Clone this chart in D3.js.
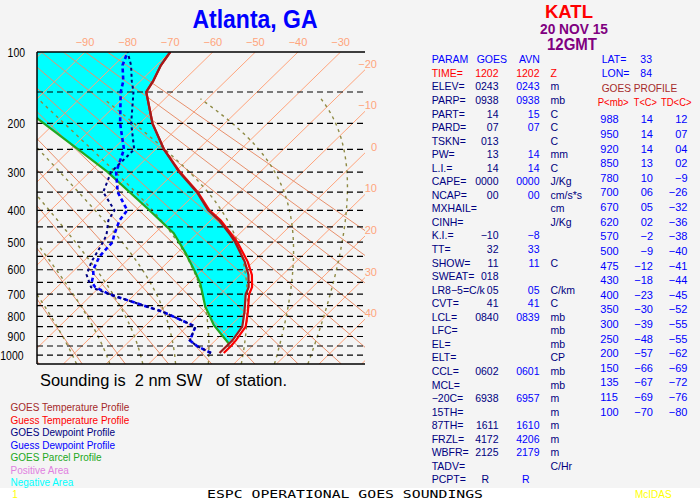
<!DOCTYPE html>
<meta charset="utf-8">
<script src="https://d3js.org/d3.v7.min.js"></script>
<style>
  body { margin: 0; background: #f4f4f4; }
  text { font-family: "Liberation Sans", Arial, sans-serif; }
</style>
<div id="chart"></div>
<script>
// GOES retrieved profile (table on the right)
const profP  = [988, 950, 920, 850, 780, 700, 670, 620, 570, 500, 475, 430, 400, 350, 300, 250, 200, 150, 135, 115, 100];
const goesT  = [14, 14, 14, 13, 10, 6, 5, 2, -2, -9, -12, -18, -23, -30, -39, -48, -57, -66, -67, -69, -70];
const goesTd = [12, 7, 4, 2, -9, -26, -32, -36, -38, -40, -41, -44, -45, -52, -55, -55, -62, -69, -72, -76, -80];

// first guess (AVN) profile
const guessT = [15, 15, 14.8, 13.8, 10.8, 6.8, 5.8, 2.8, -1.3, -8.5, -11.6, -17.6, -22.7, -29.8, -38.8, -48, -57, -66, -67, -69, -70];
const guessTdP = [988, 950, 920, 850, 780, 700, 670, 650, 620, 600, 550, 500, 475, 430, 400, 350, 300, 250, 200, 150, 135, 115, 100];
const guessTd  = [12, 7, 4, 2, -9, -26, -31, -33, -34.4, -35.7, -37.4, -37.8, -39.2, -41.4, -42, -48.6, -53.8, -57.4, -64.6, -72, -74, -78, -80];

// GOES parcel profile
const parcelP = [938, 842, 800, 755, 700, 654, 610, 538, 470, 394, 299, 248, 193, 100];
const parcelT = [14, 5.9, 2.9, -0.5, -4.1, -7.3, -11.1, -18, -25.6, -37.8, -56, -68.7, -84.7, -120];

// background lines
const isobars = d3.range(150, 1001, 50);
const isobarLabels = [100, 200, 300, 400, 500, 600, 700, 800, 900, 1000];
const isotherms = d3.range(-100, 51, 10);
const topTempLabels = [-90, -80, -70, -60, -50, -40, -30];
const rightTempLabels = [-20, -10, 0, 10, 20, 30, 40];
const dryThetas = d3.range(244, 365, 10);
const moistThetaW = [-20, -12, -4, 4, 12, 20, 28, 36];

// text table
const paramNames = ["TIME=", "ELEV=", "PARP=", "PART=", "PARD=", "TSKN=", "PW=", "L.I.=", "CAPE=", "NCAP=", "MXHAIL=", "CINH=", "K.I.=", "TT=", "SHOW=", "SWEAT=", "LR8\u22125=C/k", "CVT=", "LCL=", "LFC=", "EL=", "ELT=", "CCL=", "MCL=", "\u221220C=", "15TH=", "87TH=", "FRZL=", "WBFR=", "TADV=", "PCPT="];
const goesVals = ["1202", "0243", "0938", "14", "07", "013", "13", "14", "0000", "00", "", "", "\u221210", "32", "11", "018", "05", "41", "0840", "", "", "", "0602", "", "6938", "", "1611", "4172", "2125", "", "R"];
const avnVals  = ["1202", "0243", "0938", "15", "07", "", "14", "14", "0000", "00", "", "", "\u22128", "33", "11", "", "05", "41", "0839", "", "", "", "0601", "", "6957", "", "1610", "4206", "2179", "", "R"];
const units    = ["Z", "m", "mb", "C", "C", "C", "mm", "C", "J/Kg", "cm/s*s", "cm", "J/Kg", "", "", "C", "", "C/km", "C", "mb", "mb", "mb", "CP", "mb", "mb", "m", "m", "m", "m", "m", "C/Hr", ""];

const legendItems = ["GOES Temperature Profile", "Guess Temperature Profile", "GOES Dewpoint Profile", "Guess Dewpoint Profile", "GOES Parcel Profile", "Positive Area", "Negative Area"];
const legendColors = ["#a52a2a", "#ff0000", "#000080", "#0000ff", "#22a822", "#e080e0", "#00ffff"];

const W = 700, H = 500;
const svg = d3.select("#chart").append("svg")
  .attr("width", W).attr("height", H);

svg.append("rect").attr("width", W).attr("height", H).attr("fill", "#f4f4f4");

// scales: y linear in p^0.286, isotherms skewed
const pLeft = 37, pRight = 365, pTop = 52, pBottom = 364;
const y = d3.scalePow().exponent(0.286).domain([100, 1050]).range([pTop, pBottom]);
const xT = d3.scaleLinear().domain([-90, -30]).range([85, 340.6]);
const skew = 1.025;
const px = (T, p) => xT(T) - skew * (y(p) - pTop);

const line = d3.line().x(d => px(d.T, d.p)).y(d => y(d.p));

svg.append("clipPath").attr("id", "plot")
  .append("rect").attr("x", pLeft).attr("y", pTop)
  .attr("width", pRight - pLeft).attr("height", pBottom - pTop);

const plot = svg.append("g").attr("clip-path", "url(#plot)");

// negative area between environment and parcel
const negArea = [{ p: parcelP[0], T: parcelT[0] }]
  .concat(profP.map((p, i) => ({ p, T: goesT[i] })).filter(d => d.p < parcelP[0]))
  .concat(parcelP.map((p, i) => ({ p, T: parcelT[i] })).reverse());
plot.append("path")
  .attr("d", line(negArea) + "Z")
  .attr("fill", "#00ffff");

// isotherms
plot.selectAll(".isotherm")
  .data(isotherms)
  .join("path")
  .attr("class", "isotherm")
  .attr("d", T => line([{ p: 100, T }, { p: 1050, T }]))
  .attr("stroke", "#ffa47c")
  .attr("stroke-width", 1)
  .attr("fill", "none");

// dry adiabats
plot.selectAll(".dry")
  .data(dryThetas)
  .join("path")
  .attr("class", "dry")
  .attr("d", th => line(d3.range(100, 1051, 50).map(p => ({ p, T: th * Math.pow(p / 1000, 0.286) - 273.15 }))))
  .attr("stroke", "#e8906c")
  .attr("stroke-width", 1)
  .attr("fill", "none");

// moist adiabats
function moistAdiabat(tw) {
  const Rd = 287.04, cp = 1005.7, Lv = 2.501e6, eps = 0.622;
  const dTdp = (T, p) => {
    const es = 6.112 * Math.exp(17.67 * (T - 273.15) / (T - 29.65));
    const rs = eps * es / (p - es);
    return (Rd * T + Lv * rs) / (p * (cp + Lv * Lv * rs * eps / (Rd * T * T)));
  };
  const pts = [];
  let T = tw + 273.15;
  let T2 = T;
  for (let p = 1000; p < 1050; p += 5) {
    const k1 = dTdp(T2, p), k2 = dTdp(T2 + k1 * 5, p + 5);
    T2 += 2.5 * (k1 + k2);
  }
  pts.push({ p: 1050, T: T2 - 273.15 });
  for (let p = 1000; p >= 160; p -= 5) {
    pts.push({ p, T: T - 273.15 });
    const k1 = dTdp(T, p), k2 = dTdp(T - k1 * 5, p - 5);
    T -= 2.5 * (k1 + k2);
  }
  return pts;
}
plot.selectAll(".moist")
  .data(moistThetaW)
  .join("path")
  .attr("class", "moist")
  .attr("d", tw => line(moistAdiabat(tw)))
  .attr("stroke", "#8e8a44")
  .attr("stroke-width", 1.4)
  .attr("stroke-dasharray", "3,4")
  .attr("fill", "none");

// isobars
plot.selectAll(".isobar")
  .data(isobars)
  .join("line")
  .attr("class", "isobar")
  .attr("x1", pLeft).attr("x2", pRight)
  .attr("y1", d => y(d)).attr("y2", d => y(d))
  .attr("stroke", "#000")
  .attr("stroke-width", 1.2)
  .attr("stroke-dasharray", "6,4");

// profiles
plot.append("path")
  .attr("d", line(parcelP.map((p, i) => ({ p, T: parcelT[i] }))))
  .attr("stroke", "#22a822").attr("stroke-width", 2.2).attr("fill", "none");

plot.append("path")
  .attr("d", line(profP.map((p, i) => ({ p, T: guessT[i] }))))
  .attr("stroke", "#ff0000").attr("stroke-width", 2.2).attr("fill", "none");

plot.append("path")
  .attr("d", line(profP.map((p, i) => ({ p, T: goesT[i] }))))
  .attr("stroke", "#a01c1c").attr("stroke-width", 2.2).attr("fill", "none");

plot.append("path")
  .attr("d", line(guessTdP.map((p, i) => ({ p, T: guessTd[i] }))))
  .attr("stroke", "#0000ff").attr("stroke-width", 2.6).attr("fill", "none")
  .attr("stroke-dasharray", "4,3");

plot.append("path")
  .attr("d", line(profP.map((p, i) => ({ p, T: goesTd[i] }))))
  .attr("stroke", "#000080").attr("stroke-width", 2).attr("fill", "none")
  .attr("stroke-dasharray", "3,3");

// frame
svg.append("line").attr("x1", pLeft).attr("x2", pRight).attr("y1", pTop).attr("y2", pTop)
  .attr("stroke", "#000").attr("stroke-width", 1.5);
svg.append("line").attr("x1", pLeft).attr("x2", pRight).attr("y1", pBottom).attr("y2", pBottom)
  .attr("stroke", "#000").attr("stroke-width", 1.5);
svg.append("line").attr("x1", pLeft).attr("x2", pLeft).attr("y1", pTop).attr("y2", pBottom)
  .attr("stroke", "#000").attr("stroke-width", 1.5);

// pressure labels
svg.selectAll(".plab")
  .data(isobarLabels)
  .join("text")
  .attr("class", "plab")
  .attr("x", d => d >= 1000 ? 23.5 : 25)
  .attr("y", d => y(d) + 4.5)
  .attr("text-anchor", "end")
  .attr("font-size", 12)
  .attr("textLength", d => String(d).length * 5.8)
  .attr("lengthAdjust", "spacingAndGlyphs")
  .text(d => d);

const fmtT = v => (v < 0 ? "\u2212" + Math.abs(v) : String(v));

svg.selectAll(".ttop")
  .data(topTempLabels)
  .join("text")
  .attr("class", "ttop")
  .attr("x", d => xT(d)).attr("y", 46)
  .attr("text-anchor", "middle")
  .attr("font-size", 11)
  .attr("fill", "#ffa47c")
  .text(fmtT);

svg.selectAll(".tright")
  .data(rightTempLabels)
  .join("text")
  .attr("class", "tright")
  .attr("x", 377)
  .attr("y", d => pTop + (xT(d) - pRight) / skew - 2)
  .attr("text-anchor", "end")
  .attr("font-size", 11)
  .attr("fill", "#ffa47c")
  .text(fmtT);

// titles
svg.append("text").attr("x", 255).attr("y", 28).attr("text-anchor", "middle")
  .attr("font-size", 26).attr("font-weight", "bold").attr("fill", "#0000ff")
  .attr("textLength", 125).attr("lengthAdjust", "spacingAndGlyphs")
  .text("Atlanta, GA");
svg.append("text").attr("x", 569).attr("y", 18).attr("text-anchor", "middle")
  .attr("font-size", 17.5).attr("font-weight", "bold").attr("fill", "#ff0000")
  .attr("textLength", 48).attr("lengthAdjust", "spacingAndGlyphs")
  .text("KATL");
svg.append("text").attr("x", 574).attr("y", 33.5).attr("text-anchor", "middle")
  .attr("font-size", 14.5).attr("font-weight", "bold").attr("fill", "#800080")
  .attr("textLength", 68).attr("lengthAdjust", "spacingAndGlyphs")
  .text("20 NOV 15");
svg.append("text").attr("x", 572).attr("y", 50).attr("text-anchor", "middle")
  .attr("font-size", 16).attr("font-weight", "bold").attr("fill", "#800080")
  .attr("textLength", 50).attr("lengthAdjust", "spacingAndGlyphs")
  .text("12GMT");

svg.append("text").attr("x", 40).attr("y", 386)
  .attr("font-size", 16).style("white-space", "pre")
  .attr("textLength", 247).attr("lengthAdjust", "spacingAndGlyphs")
  .text("Sounding is  2 nm SW   of station.");

// legend
svg.selectAll(".leg")
  .data(legendItems)
  .join("text")
  .attr("class", "leg")
  .attr("x", 10.5).attr("y", (d, i) => 411 + i * 12.5)
  .attr("font-size", 10)
  .attr("fill", (d, i) => legendColors[i])
  .text(d => d);

// parameter table
const rowY = i => 63.3 + 13.55 * i;
const fs = 10.5;
svg.append("text").attr("x", 431.7).attr("y", rowY(0)).attr("font-size", fs).attr("fill", "#0000ff").text("PARAM");
svg.append("text").attr("x", 476.7).attr("y", rowY(0)).attr("font-size", fs).attr("fill", "#0000ff").text("GOES");
svg.append("text").attr("x", 519).attr("y", rowY(0)).attr("font-size", fs).attr("fill", "#0000ff").text("AVN");

const rows = svg.selectAll(".prow")
  .data(paramNames)
  .join("g")
  .attr("class", "prow")
  .attr("font-size", fs);
rows.append("text").attr("x", 431.7).attr("y", (d, i) => rowY(i + 1))
  .attr("fill", (d, i) => i === 0 ? "#ff0000" : "#000080").text(d => d);
rows.append("text").attr("y", (d, i) => rowY(i + 1))
  .attr("x", (d, i) => goesVals[i] === "R" ? 489 : 498.5)
  .attr("text-anchor", "end")
  .attr("fill", (d, i) => i === 0 ? "#ff0000" : "#000080").text((d, i) => goesVals[i]);
rows.append("text").attr("y", (d, i) => rowY(i + 1))
  .attr("x", (d, i) => avnVals[i] === "R" ? 529.5 : 539.5)
  .attr("text-anchor", "end")
  .attr("fill", (d, i) => i === 0 ? "#ff0000" : "#0000ff").text((d, i) => avnVals[i]);
rows.append("text").attr("x", 550.5).attr("y", (d, i) => rowY(i + 1))
  .attr("fill", (d, i) => i === 0 ? "#ff0000" : "#000080").text((d, i) => units[i]);

// location and profile listing
svg.append("text").attr("x", 601.7).attr("y", 63.3).attr("font-size", fs).attr("fill", "#0000ff").text("LAT=");
svg.append("text").attr("x", 652).attr("y", 63.3).attr("font-size", fs).attr("fill", "#0000ff").attr("text-anchor", "end").text("33");
svg.append("text").attr("x", 601.7).attr("y", 77).attr("font-size", fs).attr("fill", "#0000ff").text("LON=");
svg.append("text").attr("x", 652).attr("y", 77).attr("font-size", fs).attr("fill", "#0000ff").attr("text-anchor", "end").text("84");
svg.append("text").attr("x", 601.7).attr("y", 92).attr("font-size", fs).attr("fill", "#a52a2a")
  .attr("textLength", 75.6).attr("lengthAdjust", "spacingAndGlyphs").text("GOES PROFILE");
svg.append("text").attr("x", 597.7).attr("y", 105.7).attr("font-size", fs).attr("fill", "#ff0000")
  .attr("textLength", 31).attr("lengthAdjust", "spacingAndGlyphs").text("P<mb>");
svg.append("text").attr("x", 633.8).attr("y", 105.7).attr("font-size", fs).attr("fill", "#ff0000")
  .attr("textLength", 23).attr("lengthAdjust", "spacingAndGlyphs").text("T<C>");
svg.append("text").attr("x", 661).attr("y", 105.7).attr("font-size", fs).attr("fill", "#ff0000")
  .attr("textLength", 30.5).attr("lengthAdjust", "spacingAndGlyphs").text("TD<C>");

const fmt2 = v => (v < 0 ? "\u2212" + Math.abs(v) : String(v).padStart(2, "0"));
const prof = svg.selectAll(".lrow")
  .data(profP)
  .join("g")
  .attr("class", "lrow")
  .attr("font-size", 11)
  .attr("fill", "#0000ff");
prof.append("text").attr("x", 600.3).attr("y", (d, i) => 123.3 + 14.62 * i).text(d => d);
prof.append("text").attr("x", 653).attr("y", (d, i) => 123.3 + 14.62 * i).attr("text-anchor", "end").text((d, i) => fmt2(goesT[i]));
prof.append("text").attr("x", 687.5).attr("y", (d, i) => 123.3 + 14.62 * i).attr("text-anchor", "end").text((d, i) => fmt2(goesTd[i]));

// bottom strip
svg.append("rect").attr("x", 0).attr("y", 488).attr("width", W).attr("height", 12).attr("fill", "#ffffff");
svg.append("text").attr("x", 15).attr("y", 497.5).attr("font-size", 10).attr("fill", "#ffff00")
  .attr("text-anchor", "middle").text("1");
svg.append("text").attr("x", 207).attr("y", 497.5).attr("font-size", 10)
  .style("font-family", "'DejaVu Sans Mono', monospace")
  .attr("textLength", 276).attr("lengthAdjust", "spacingAndGlyphs")
  .text("ESPC OPERATIONAL GOES SOUNDINGS");
svg.append("text").attr("x", 635).attr("y", 497.5).attr("font-size", 10).attr("fill", "#ffff00")
  .text("McIDAS");
</script>
